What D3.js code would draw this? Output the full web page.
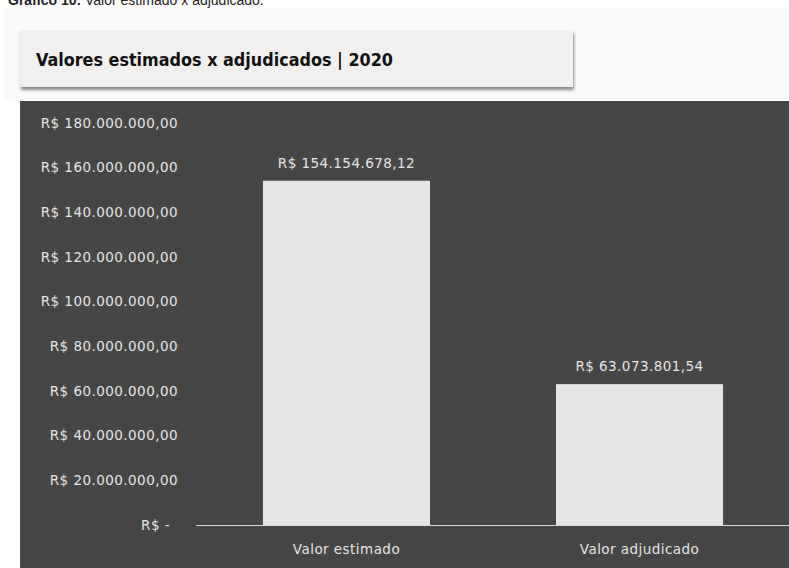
<!DOCTYPE html>
<html>
<head>
<meta charset="utf-8">
<script src="https://cdn.jsdelivr.net/npm/d3@7"></script>
<style>
  html, body { margin: 0; padding: 0; background: #ffffff; }
  svg { display: block; }
</style>
</head>
<body>
<script>
// Chart data
const categories = ["Valor estimado", "Valor adjudicado"];
const values = [154154678.12, 63073801.54];
const valueLabels = ["R$ 154.154.678,12", "R$ 63.073.801,54"];
const tickValues = [0, 20e6, 40e6, 60e6, 80e6, 100e6, 120e6, 140e6, 160e6, 180e6];
const tickLabels = ["R$ -", "R$ 20.000.000,00", "R$ 40.000.000,00", "R$ 60.000.000,00",
  "R$ 80.000.000,00", "R$ 100.000.000,00", "R$ 120.000.000,00", "R$ 140.000.000,00",
  "R$ 160.000.000,00", "R$ 180.000.000,00"];
const chartTitle = "Valores estimados x adjudicados | 2020";

const W = 789, H = 568;
const svg = d3.select("body").append("svg").attr("width", W).attr("height", H);

const defs = svg.append("defs");
const f = defs.append("filter").attr("id", "shadow").attr("x", "-5%").attr("y", "-20%").attr("width", "110%").attr("height", "150%");
f.append("feDropShadow").attr("dx", 1).attr("dy", 3).attr("stdDeviation", 1.6).attr("flood-color", "#000").attr("flood-opacity", 0.45);

// Caption line above
const cap = svg.append("text").attr("x", 8).attr("y", 5)
  .attr("font-family", "Liberation Sans, Arial, sans-serif").attr("font-size", 14).attr("fill", "#222");
cap.append("tspan").attr("font-weight", "bold").text("Gráfico 10: ");
cap.append("tspan").text("Valor estimado x adjudicado.");

// Light header area
svg.append("rect").attr("x", 4).attr("y", 8).attr("width", W - 4).attr("height", 93).attr("fill", "#f9f9f9");

// Title box
svg.append("rect").attr("x", 20).attr("y", 30).attr("width", 553).attr("height", 57)
  .attr("fill", "#f1f0ef").attr("filter", "url(#shadow)");
svg.append("text").attr("x", 36).attr("y", 66)
  .attr("font-family", "DejaVu Sans Condensed, Liberation Sans Narrow, sans-serif")
  .attr("font-weight", "bold").attr("font-size", 18).attr("fill", "#111")
  .attr("textLength", 357).attr("lengthAdjust", "spacingAndGlyphs")
  .text(chartTitle);

// Dark plot panel
svg.append("rect").attr("x", 20).attr("y", 101).attr("width", W - 20).attr("height", H - 101).attr("fill", "#464646");

// Scales
const y = d3.scaleLinear().domain([0, 180e6]).range([525, 123]);
const x = d3.scaleBand().domain(categories).range([197, 789]).paddingInner(0.43).paddingOuter(0.225);

const labelFont = "DejaVu Sans, Open Sans, sans-serif";
const fs = 13.5;
const ls = 0.45;

// Y axis labels
const yAxis = d3.axisLeft(y).tickValues(tickValues).tickSize(0).tickPadding(0)
  .tickFormat((d, i) => tickLabels[i]);
const yg = svg.append("g").attr("transform", "translate(178,0)").call(yAxis);
yg.select(".domain").remove();
yg.selectAll("text").attr("fill", "#e4e4e4").attr("font-family", labelFont).attr("font-size", fs)
  .attr("letter-spacing", ls)
  .attr("dx", (d) => d === 0 ? -8 : 0);

// Bars
svg.selectAll("rect.bar").data(values).enter().append("rect").attr("class", "bar")
  .attr("x", (d, i) => x(categories[i])).attr("width", x.bandwidth())
  .attr("y", d => y(d)).attr("height", d => y(0) - y(d))
  .attr("fill", "#e6e5e3");

// Value labels
svg.selectAll("text.val").data(values).enter().append("text").attr("class", "val")
  .attr("x", (d, i) => x(categories[i]) + x.bandwidth() / 2)
  .attr("y", d => y(d) - 13)
  .attr("text-anchor", "middle").attr("fill", "#e4e4e4")
  .attr("font-family", labelFont).attr("font-size", fs).attr("letter-spacing", ls)
  .text((d, i) => valueLabels[i]);

// Baseline
svg.append("line").attr("x1", 196).attr("x2", 789).attr("y1", y(0) + 0.5).attr("y2", y(0) + 0.5)
  .attr("stroke", "#d8d8d8").attr("stroke-width", 1.2);

// X axis labels
const xAxis = d3.axisBottom(x).tickSize(0).tickPadding(0);
const xg = svg.append("g").attr("transform", `translate(0,${y(0) + 19})`).call(xAxis);
xg.select(".domain").remove();
xg.selectAll("text").attr("fill", "#e4e4e4").attr("font-family", labelFont).attr("font-size", fs)
  .attr("letter-spacing", ls).attr("dy", "0.71em");
</script>
</body>
</html>
